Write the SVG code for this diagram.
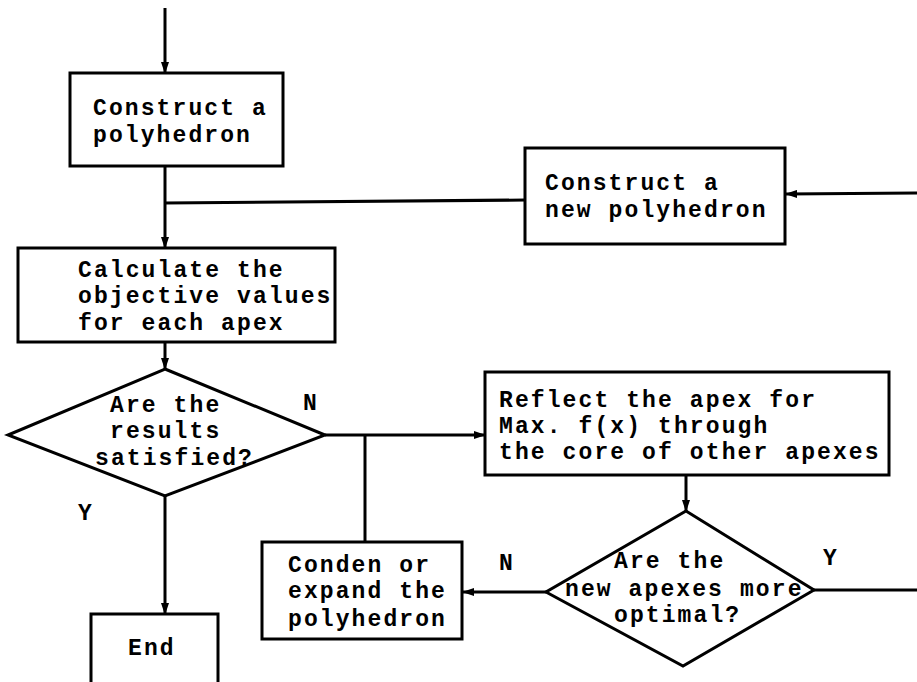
<svg xmlns="http://www.w3.org/2000/svg" width="917" height="682" viewBox="0 0 917 682">
<defs>
<marker id="ah" markerWidth="12" markerHeight="8" refX="11" refY="4" orient="auto" markerUnits="userSpaceOnUse">
<path d="M0,0 L12,4 L0,8 Z" fill="#000"/>
</marker>
<style>
.box{fill:#fff;stroke:#000;stroke-width:3}
.ln{fill:none;stroke:#000;stroke-width:3}
.arr{fill:none;stroke:#000;stroke-width:3;marker-end:url(#ah)}
text{font-family:"Liberation Mono","DejaVu Sans Mono",monospace;font-size:23px;font-weight:bold;letter-spacing:2.1px;fill:#000}
</style>
</defs>
<rect width="917" height="682" fill="#fff"/>
<g id="connectors">
<line class="arr" x1="165" y1="8" x2="165" y2="73"/>
<line class="arr" x1="165" y1="166" x2="165" y2="248"/>
<line class="ln" x1="525" y1="200" x2="165" y2="203"/>
<line class="arr" x1="917" y1="193" x2="786" y2="194"/>
<line class="arr" x1="165" y1="342" x2="165" y2="369"/>
<line class="arr" x1="165" y1="496" x2="165" y2="614"/>
<line class="arr" x1="325" y1="435" x2="485" y2="435"/>
<line class="ln" x1="365" y1="435" x2="365" y2="542"/>
<line class="arr" x1="686" y1="475" x2="686" y2="511"/>
<line class="arr" x1="546" y1="592" x2="463" y2="592"/>
<line class="ln" x1="814" y1="590" x2="917" y2="590"/>
</g>
<g id="construct">
<rect class="box" x="70" y="73" width="213" height="93"/>
<text x="93" y="115">Construct a</text>
<text x="93" y="142">polyhedron</text>
</g>
<g id="new-polyhedron">
<rect class="box" x="525" y="148" width="260" height="96"/>
<text x="545" y="190">Construct a</text>
<text x="545" y="217">new polyhedron</text>
</g>
<g id="calculate">
<rect class="box" x="18" y="248" width="317" height="94"/>
<text x="78" y="277">Calculate the</text>
<text x="78" y="303">objective values</text>
<text x="78" y="330">for each apex</text>
</g>
<g id="satisfied">
<polygon class="box" points="165,369 325,435 165,496 8,435"/>
<text x="110" y="412">Are the</text>
<text x="110" y="438">results</text>
<text x="95" y="465">satisfied?</text>
</g>
<g id="labels">
<text x="303" y="410">N</text>
<text x="78" y="520">Y</text>
<text x="499" y="570">N</text>
<text x="823" y="565">Y</text>
</g>
<g id="end">
<rect class="box" x="91" y="614" width="127" height="80"/>
<text x="128" y="655">End</text>
</g>
<g id="reflect">
<rect class="box" x="485" y="372" width="404" height="103"/>
<text x="499" y="407">Reflect the apex for</text>
<text x="499" y="433">Max. f(x) through</text>
<text x="499" y="459">the core of other apexes</text>
</g>
<g id="optimal">
<polygon class="box" points="686,511 814,590 683,666 546,592"/>
<text x="614" y="568">Are the</text>
<text x="565" y="596">new apexes more</text>
<text x="614" y="622">optimal?</text>
</g>
<g id="conden">
<rect class="box" x="262" y="542" width="200" height="97"/>
<text x="288" y="572">Conden or</text>
<text x="288" y="598">expand the</text>
<text x="288" y="626">polyhedron</text>
</g>
</svg>
